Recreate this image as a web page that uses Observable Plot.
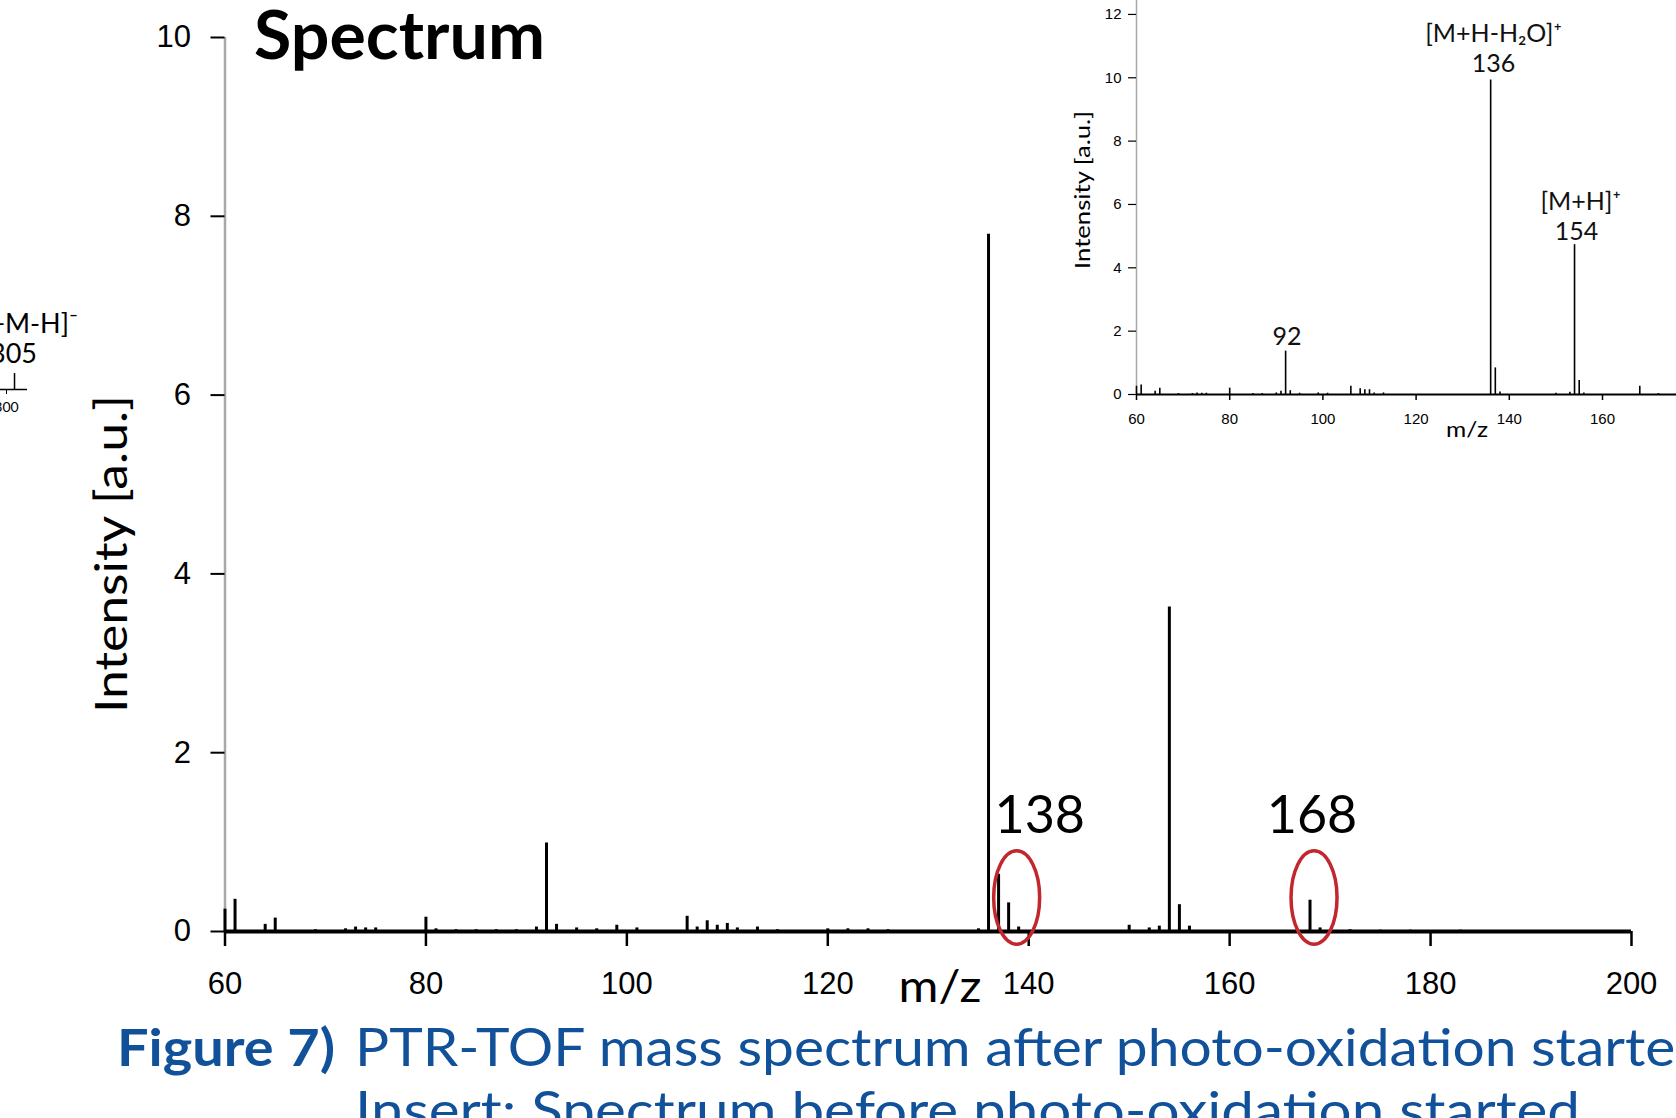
<!DOCTYPE html>
<html><head><meta charset="utf-8">
<script src="https://cdn.jsdelivr.net/npm/d3@7"></script>
<script src="https://cdn.jsdelivr.net/npm/@observablehq/plot@0.6"></script>
<style>
html,body{margin:0;padding:0;background:#fff;}
#page{position:relative;width:1676px;height:1118px;overflow:hidden;background:#fff;}
#page svg{position:absolute;overflow:visible;}
</style></head><body><div id="page"></div>
<script>
// ---- main spectrum (after photo-oxidation started) ----
const mainMz  = [60,61,64,65,69,72,73,74,75,80,81,83,85,87,89,91,92,93,95,97,99,101,106,107,108,109,110,111,113,115,120,122,124,126,135,136,137,138,139,150,152,153,154,155,156,168,169,172,175,178,183,187,191,195];
const mainInt = [0.25,0.36,0.08,0.15,0.02,0.03,0.05,0.04,0.04,0.16,0.03,0.02,0.02,0.02,0.02,0.05,0.99,0.08,0.04,0.03,0.07,0.04,0.17,0.05,0.12,0.07,0.09,0.04,0.05,0.02,0.03,0.03,0.03,0.02,0.03,7.8,0.64,0.32,0.05,0.07,0.04,0.06,3.63,0.30,0.06,0.35,0.04,0.02,0.015,0.015,0.015,0.01,0.01,0.01];
const mainTicksX = [60,80,100,120,140,160,180,200];
const mainTicksY = [0,2,4,6,8,10];
const mainLabels = ["138","168"];
const mainLabelMz = [141.1,168.2];
const mainLabelInt = [1.1,1.1];
const circledMz = [138.8,168.4];
const circledInt = [0.38,0.38];

// ---- inset spectrum (before photo-oxidation started) ----
const insetMz  = [60,61,64,65,69,72,73,74,75,80,85,87,90,91,92,93,95,99,101,106,108,109,110,111,113,136,137,138,150,153,154,155,156,168,172];
const insetInt = [0.26,0.30,0.10,0.20,0.03,0.03,0.05,0.04,0.04,0.20,0.03,0.03,0.05,0.10,1.37,0.12,0.04,0.05,0.04,0.26,0.18,0.15,0.15,0.05,0.05,9.93,0.84,0.08,0.04,0.07,4.73,0.44,0.05,0.26,0.03];
const insetTicksX = [60,80,100,120,140,160];
const insetTicksY = [0,2,4,6,8,10,12];
const insetLabels = ["[M+H-H\u2082O]\u207A","136","[M+H]\u207A","154","92"];
const insetLabelMz = [136.6,136.6,155.3,154.4,92.3];
const insetLabelInt = [11.12,10.17,5.84,4.88,1.55];

// ---- fragment of a neighbouring panel (cut off at left edge) ----
const fragMz = [305];
const fragInt = [1];
const fragTicks = [300];

const page = document.getElementById("page");
const GOTHIC = "Lato, 'Open Sans', sans-serif";
const ARIAL = "'Liberation Sans', Arial, sans-serif";
const BLUE = "#11519a";
const RED = "#c1272d";

const mainData = mainMz.map((m,i)=>({mz:m, int:mainInt[i]}));
const insetData = insetMz.map((m,i)=>({mz:m, int:insetInt[i]}));
const mainAnn = mainLabels.map((t,i)=>({t, mz:mainLabelMz[i], int:mainLabelInt[i]}));
const circled = circledMz.map((m,i)=>({mz:m, int:circledInt[i]}));
const insetAnn = insetLabels.map((t,i)=>({t, mz:insetLabelMz[i], int:insetLabelInt[i]}));
const fragData = fragMz.map((m,i)=>({mz:m, int:fragInt[i]}));

// ellipse symbol (vertical ellipse, ry ≈ 2.03 rx)
const ellipseSymbol = {
  draw(ctx, size) {
    const rx = Math.sqrt(size / Math.PI), ry = rx * 2.03, k = 0.5523;
    ctx.moveTo(0, -ry);
    ctx.bezierCurveTo(k*rx, -ry, rx, -k*ry, rx, 0);
    ctx.bezierCurveTo(rx, k*ry, k*rx, ry, 0, ry);
    ctx.bezierCurveTo(-k*rx, ry, -rx, k*ry, -rx, 0);
    ctx.bezierCurveTo(-rx, -k*ry, -k*rx, -ry, 0, -ry);
    ctx.closePath();
  }
};

const main = Plot.plot({
  width: 1676, height: 1000,
  marginLeft: 224.5, marginRight: 45, marginTop: 37, marginBottom: 69,
  x: {domain: [60,200]},
  y: {domain: [0,10]},
  style: {background: "transparent", color: "#000", overflow: "visible"},
  marks: [
    Plot.ruleX([60], {y1: 0, y2: 10, stroke: "#a8a8a8", strokeWidth: 2.5}),
    Plot.axisY({ticks: mainTicksY, tickSize: 14, tickPadding: 20, fontSize: 31, fontFamily: ARIAL, stroke: "#000", strokeWidth: 2, label: null}),
    Plot.axisX({ticks: mainTicksX, tickSize: 15, tickPadding: 25, fontSize: 31, fontFamily: ARIAL, stroke: "#000", strokeWidth: 2.5, label: null}),
    Plot.ruleX(mainData, {x: "mz", y1: 0, y2: "int", stroke: "#000", strokeWidth: 3}),
    Plot.ruleY([0], {x1: 60, x2: 200, stroke: "#000", strokeWidth: 4}),
    Plot.text(mainAnn, {x: "mz", y: "int", text: "t", fontSize: 52, fontFamily: GOTHIC, textAnchor: "middle", lineAnchor: "bottom", fill: "#000"}),
    Plot.dot(circled, {x: "mz", y: "int", r: 23, symbol: ellipseSymbol, stroke: RED, strokeWidth: 3.5, fill: "none"})
  ]
});
main.style.left = "0px"; main.style.top = "0px";
page.appendChild(main);

const inset = Plot.plot({
  width: 789, height: 450,
  marginLeft: 136, marginRight: 0.6, marginTop: 0, marginBottom: 56,
  x: {domain: [60,200]},
  y: {domain: [0,12.44]},
  style: {background: "transparent", color: "#000", overflow: "visible"},
  marks: [
    Plot.ruleX([60], {y1: 0, y2: 12.44, stroke: "#a8a8a8", strokeWidth: 1.5}),
    Plot.axisY({ticks: insetTicksY, tickSize: 8, tickPadding: 7, fontSize: 15, fontFamily: ARIAL, stroke: "#000", strokeWidth: 1.2, label: null}),
    Plot.axisX({ticks: insetTicksX, tickSize: 6, tickPadding: 13, fontSize: 15, fontFamily: ARIAL, stroke: "#000", strokeWidth: 1.5, label: null}),
    Plot.ruleX(insetData, {x: "mz", y1: 0, y2: "int", stroke: "#000", strokeWidth: 1.6}),
    Plot.ruleY([0], {x1: 60, x2: 200, stroke: "#000", strokeWidth: 2}),
    Plot.text(insetAnn, {x: "mz", y: "int", text: "t", fontSize: 25, fontFamily: GOTHIC, textAnchor: "middle", lineAnchor: "bottom", fill: "#111"})
  ]
});
inset.style.left = "1000px"; inset.style.top = "0px";
page.appendChild(inset);

const frag = Plot.plot({
  width: 27, height: 30,
  marginLeft: 0, marginRight: 0, marginTop: 14, marginBottom: 0,
  x: {domain: [296.25, 313.1]},
  y: {domain: [0, 1], axis: null},
  style: {background: "transparent", color: "#000", overflow: "visible"},
  marks: [
    Plot.ruleX(fragData, {x: "mz", y1: 0, y2: "int", stroke: "#000", strokeWidth: 1.5}),
    Plot.ruleY([0], {stroke: "#000", strokeWidth: 1.5}),
    Plot.axisX({ticks: fragTicks, tickSize: 5, tickPadding: 8, fontSize: 14, fontFamily: GOTHIC, stroke: "#000", label: null})
  ]
});
frag.style.left = "0px"; frag.style.top = "359px";
page.appendChild(frag);

// ---- titles, axis titles and caption ----
const svg = d3.select(page).append("svg")
  .attr("width", 1676).attr("height", 1118)
  .style("left", "0px").style("top", "0px");

function txt(s, x, y, o = {}) {
  const t = svg.append("text").attr("x", x).attr("y", y)
    .attr("font-family", o.family || GOTHIC)
    .attr("font-size", o.size)
    .attr("font-weight", o.weight || "normal")
    .attr("fill", o.fill || "#000")
    .attr("text-anchor", o.anchor || "start")
    .text(s);
  if (o.len) t.attr("textLength", o.len).attr("lengthAdjust", "spacingAndGlyphs");
  if (o.rotate) t.attr("transform", `rotate(-90 ${x} ${y})`);
  return t;
}

txt("Spectrum", 254, 59, {size: 66, weight: "bold", len: 291});
txt("Intensity [a.u.]", 127, 554, {size: 44, anchor: "middle", rotate: true, len: 318});
txt("m/z", 940, 1002, {size: 44, anchor: "middle", len: 83});
txt("Intensity [a.u.]", 1090, 190, {size: 21, anchor: "middle", rotate: true, len: 158});
txt("m/z", 1467, 437, {size: 22, anchor: "middle", len: 42});
txt("+M-H]\u207B", 78, 333, {size: 27, anchor: "end"});
txt("305", 37, 363, {size: 27, anchor: "end"});

txt("Figure 7)", 117, 1066, {size: 52, weight: "bold", fill: BLUE, len: 218});
txt("PTR-TOF mass spectrum after photo-oxidation started", 355, 1066, {size: 52, fill: BLUE, len: 1352});
txt("Insert: Spectrum before photo-oxidation started", 355, 1129, {size: 52, fill: BLUE, len: 1225});
</script>
</body></html>
